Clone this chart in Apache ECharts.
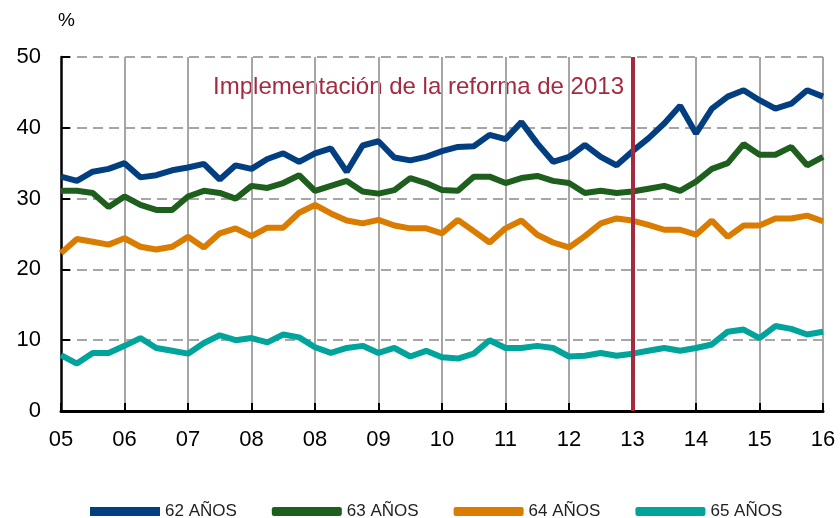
<!DOCTYPE html>
<html>
<head>
<meta charset="utf-8">
<script src="https://cdn.jsdelivr.net/npm/echarts@6/dist/echarts.min.js"></script>
<style>
  html, body { margin: 0; padding: 0; background: #fff; }
  #chart { width: 840px; height: 518px; }
</style>
</head>
<body>
<div id="chart"></div>
<script>
// year tick labels (the source repeats "08")
const tickLabels = ['05', '06', '07', '08', '08', '09', '10', '11', '12', '13', '14', '15', '16'];

// quarterly categories 2005T1 .. 2017T1
const categories = [];
for (let i = 0; i < 49; i++) {
  categories.push((2005 + Math.floor(i / 4)) + 'T' + (i % 4 + 1));
}

const s62 = [33.1, 32.5, 33.8, 34.2, 35.0, 33.0, 33.3, 34.0, 34.4, 34.9, 32.7, 34.7, 34.2,
  35.6, 36.4, 35.2, 36.4, 37.1, 33.8, 37.5, 38.1, 35.8, 35.4, 35.9, 36.7,
  37.3, 37.4, 39.0, 38.4, 40.8, 37.8, 35.2, 35.9, 37.6, 35.9, 34.7, 36.7,
  38.5, 40.6, 43.1, 39.2, 42.7, 44.4, 45.3, 43.9, 42.7, 43.4, 45.3, 44.4];

const s63 = [31.1, 31.1, 30.8, 28.8, 30.3, 29.1, 28.4, 28.4, 30.3, 31.1, 30.8, 30.0, 31.8,
  31.5, 32.2, 33.3, 31.1, 31.8, 32.5, 31.0, 30.7, 31.2, 32.9, 32.2, 31.2,
  31.1, 33.1, 33.1, 32.2, 32.9, 33.2, 32.5, 32.2, 30.8, 31.1, 30.8, 31.0,
  31.4, 31.8, 31.1, 32.4, 34.2, 35.0, 37.7, 36.2, 36.2, 37.3, 34.7, 35.9];

const s64 = [22.3, 24.3, 23.9, 23.5, 24.4, 23.2, 22.8, 23.2, 24.6, 23.1, 25.1, 25.8, 24.7,
  25.9, 25.9, 28.0, 29.1, 27.9, 26.9, 26.5, 27.0, 26.2, 25.8, 25.8, 25.1,
  27.0, 25.4, 23.8, 25.8, 26.9, 24.9, 23.8, 23.1, 24.7, 26.5, 27.2, 26.9,
  26.3, 25.6, 25.6, 24.9, 26.9, 24.6, 26.2, 26.2, 27.2, 27.2, 27.6, 26.8];

const s65 = [7.9, 6.7, 8.2, 8.2, 9.2, 10.3, 8.9, 8.5, 8.1, 9.6, 10.7, 10.0, 10.3,
  9.7, 10.8, 10.4, 9.0, 8.2, 8.9, 9.2, 8.2, 8.9, 7.7, 8.5, 7.6,
  7.4, 8.1, 10.0, 8.9, 8.9, 9.2, 8.9, 7.7, 7.8, 8.2, 7.8, 8.1,
  8.5, 8.9, 8.5, 8.9, 9.4, 11.2, 11.5, 10.3, 12.0, 11.6, 10.8, 11.2];

const seriesNames = ['62 AÑOS', '63 AÑOS', '64 AÑOS', '65 AÑOS'];
const colors = ['#033f80', '#1e5f1e', '#d97c00', '#00a49a'];
const reformIndex = 36; // position of label "13"

const chart = echarts.init(document.getElementById('chart'), null, { renderer: 'canvas' });

function line(name, data, color, extra) {
  return Object.assign({
    name: name,
    type: 'line',
    data: data,
    symbol: 'none',
    smooth: false,
    lineStyle: { color: color, width: 6 },
    itemStyle: { color: color }
  }, extra || {});
}

const option = {
  animation: false,
  textStyle: { fontFamily: 'Liberation Sans' },
  grid: { left: 61, right: 17, top: 57, bottom: 107 },
  legend: {
    left: 85,
    top: 498,
    itemWidth: 70,
    itemHeight: 9,
    itemGap: 35,
    textStyle: { fontFamily: 'Liberation Sans', fontSize: 17, color: '#222' },
    data: [
      { name: seriesNames[0], icon: 'rect' },
      { name: seriesNames[1], icon: 'roundRect' },
      { name: seriesNames[2], icon: 'roundRect' },
      { name: seriesNames[3], icon: 'roundRect' }
    ]
  },
  xAxis: {
    type: 'category',
    data: categories,
    boundaryGap: false,
    axisLine: { lineStyle: { color: '#000', width: 3 } },
    axisTick: {
      inside: true, length: 8,
      interval: (i) => i % 4 === 0,
      lineStyle: { color: '#000', width: 2 }
    },
    axisLabel: {
      interval: (i) => i % 4 === 0,
      formatter: (v, i) => tickLabels[i / 4],
      color: '#000', fontSize: 22, margin: 18
    },
    splitLine: {
      show: true,
      interval: (i) => i % 4 === 0 && i > 0,
      lineStyle: { color: '#a6a6a6', width: 2 }
    }
  },
  yAxis: {
    type: 'value',
    min: 0, max: 50, interval: 10,
    axisLine: { show: true, lineStyle: { color: '#000', width: 2.5 } },
    axisTick: { show: true, inside: true, length: 9, lineStyle: { color: '#000', width: 2 } },
    axisLabel: { color: '#000', fontSize: 22, margin: 20 },
    splitLine: { lineStyle: { color: '#a6a6a6', width: 2, type: [10, 6] } }
  },
  graphic: [
    { type: 'text', left: 58, top: 11, style: { text: '%', fontSize: 19, fill: '#000', fontFamily: 'Liberation Sans' } },
    {
      type: 'text', right: 840 - 624, top: 75,
      style: { text: 'Implementación de la reforma de 2013', fontSize: 24, fill: '#a52a3f', fontFamily: 'Liberation Sans' }
    }
  ],
  series: [
    line(seriesNames[0], s62, colors[0]),
    line(seriesNames[1], s63, colors[1]),
    line(seriesNames[2], s64, colors[2]),
    line(seriesNames[3], s65, colors[3], {
      markLine: {
        silent: true,
        symbol: 'none',
        label: { show: false },
        lineStyle: { color: '#a52a3f', width: 4, type: 'solid' },
        data: [{ xAxis: reformIndex }]
      }
    })
  ]
};

chart.setOption(option);
</script>
</body>
</html>
